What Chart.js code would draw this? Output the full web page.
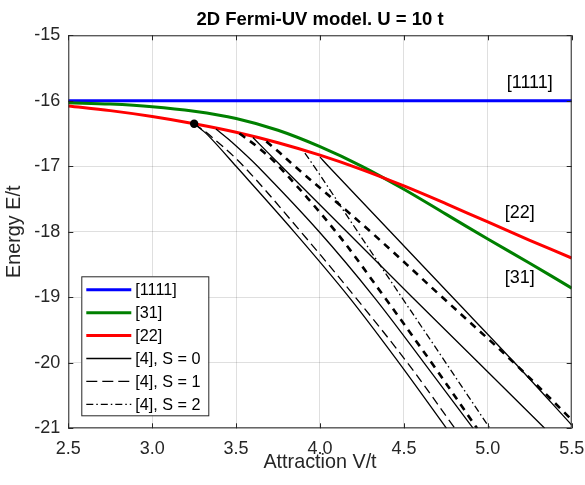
<!DOCTYPE html>
<html>
<head>
<meta charset="utf-8">
<script src="https://cdn.jsdelivr.net/npm/chart.js@4.4.0/dist/chart.umd.min.js"></script>
<style>
  body { margin: 0; background: #fff; }
  #wrap { width: 585px; height: 485px; }
</style>
</head>
<body>
<div id="wrap"><canvas id="chartFermiUV" width="585" height="485"></canvas></div>
<script>
// colored branches on a shared V/t grid
const attraction = [2.5, 2.75, 3.0, 3.25, 3.5, 3.75, 4.0, 4.25, 4.5, 4.75, 5.0, 5.25, 5.5];
const energy1111 = [-16, -16, -16, -16, -16, -16, -16, -16, -16, -16, -16, -16, -16];
const energy31 = [-16.03, -16.05, -16.09, -16.16, -16.27, -16.45, -16.70, -17.00, -17.35, -17.73, -18.11, -18.48, -18.86];
const energy22 = [-16.08, -16.15, -16.24, -16.35, -16.48, -16.64, -16.83, -17.05, -17.30, -17.57, -17.85, -18.13, -18.40];

const s0aV = [3.25, 3.33, 3.50, 3.846, 4.174, 4.471, 4.754];
const s0aE = [-16.35, -16.52, -17, -18, -19, -20, -21];
const s1aV = [3.25, 3.34, 3.545, 3.886, 4.211, 4.521, 4.804];
const s1aE = [-16.35, -16.52, -17, -18, -19, -20, -21];
const s0bV = [3.38, 3.47, 3.628, 3.995, 4.323, 4.62, 4.913];
const s0bE = [-16.43, -16.62, -17, -18, -19, -20, -21];
const s1bV = [3.52, 3.63, 3.755, 4.095, 4.385, 4.665, 4.936];
const s1bE = [-16.50, -16.71, -17, -18, -19, -20, -21];
const s0cV = [3.60, 3.77, 4.16, 4.55, 4.945, 5.339];
const s0cE = [-16.56, -17, -18, -19, -20, -21];
const s1cV = [3.68, 3.75, 3.85, 4.302, 4.729, 5.156, 5.5];
const s1cE = [-16.62, -16.77, -17, -18, -19, -20, -20.87];
const s2V = [3.91, 3.965, 4.225, 4.487, 4.75, 5.012];
const s2E = [-16.80, -17, -18, -19, -20, -21];
const s0dV = [4.00, 4.05, 4.42, 4.79, 5.16, 5.5];
const s0dE = [-16.86, -17, -18, -19, -20, -20.95];

const splitV = [3.25];
const splitE = [-16.35];

const xTicks = [2.5, 3.0, 3.5, 4.0, 4.5, 5.0, 5.5];
const yTicks = [-21, -20, -19, -18, -17, -16, -15];

const chartTitle = '2D Fermi-UV model. U = 10 t';
const legendLabels = ['[1111]', '[31]', '[22]', '[4], S = 0', '[4], S = 1', '[4], S = 2'];
const curveTags = ['[1111]', '[22]', '[31]'];
const tagV = [5.25, 5.19, 5.19];
const tagE = [-15.73, -17.71, -18.705];

const FONT = "'Liberation Sans', Arial, Helvetica, sans-serif";
const AXIS = '#262626';

const blue = { color: '#0000ff', width: 3, dash: [] };
const green = { color: '#008000', width: 3, dash: [] };
const red = { color: '#ff0000', width: 3, dash: [] };
const solid = { color: '#000', width: 1.3, dash: [] };
const dashed = { color: '#000', width: 1.3, dash: [9, 5] };
const dashedHeavy = { color: '#000', width: 2.6, dash: [7, 6] };
const dashDot = { color: '#000', width: 1.3, dash: [7, 3, 1.5, 3] };
const legendStyles = [blue, green, red, solid, dashed, dashDot];

const toPoints = (xs, ys) => xs.map((x, i) => ({ x: x, y: ys[i] }));

function curve(label, xs, ys, st, order) {
    return {
        label: label,
        data: toPoints(xs, ys),
        borderColor: st.color,
        borderWidth: st.width,
        borderDash: st.dash,
        pointRadius: 0,
        fill: false,
        tension: 0.35,
        order: order
    };
}

const matlabFrame = {
    id: 'matlabFrame',
    afterDraw(chart) {
        const c = chart.ctx;
        const a = chart.chartArea;
        const xs = chart.scales.x;
        const ys = chart.scales.y;
        c.save();

        // box and inward ticks
        c.strokeStyle = AXIS;
        c.lineWidth = 1;
        c.strokeRect(a.left + 0.5, a.top + 0.5, a.right - a.left - 1, a.bottom - a.top - 1);
        c.beginPath();
        xTicks.forEach(v => {
            const px = Math.round(xs.getPixelForValue(v)) + 0.5;
            c.moveTo(px, a.bottom); c.lineTo(px, a.bottom - 5);
            c.moveTo(px, a.top); c.lineTo(px, a.top + 5);
        });
        yTicks.forEach(v => {
            const py = Math.round(ys.getPixelForValue(v)) + 0.5;
            c.moveTo(a.left, py); c.lineTo(a.left + 5, py);
            c.moveTo(a.right, py); c.lineTo(a.right - 5, py);
        });
        c.stroke();

        // title centred over the axes
        c.fillStyle = '#000';
        c.textAlign = 'center';
        c.textBaseline = 'middle';
        c.font = 'bold 18.5px ' + FONT;
        c.fillText(chartTitle, (a.left + a.right) / 2, 20);

        // curve tags
        c.font = '18px ' + FONT;
        curveTags.forEach((t, i) => {
            c.fillText(t, xs.getPixelForValue(tagV[i]), ys.getPixelForValue(tagE[i]));
        });

        // legend box, lower left inside the axes
        const rowH = 22.9;
        const boxW = 127;
        const boxH = 139;
        const bx = a.left + 13;
        const by = a.bottom - 13 - boxH;
        c.fillStyle = '#fff';
        c.fillRect(bx, by, boxW, boxH);
        c.strokeStyle = AXIS;
        c.lineWidth = 1;
        c.strokeRect(bx + 0.5, by + 0.5, boxW, boxH);
        c.textAlign = 'left';
        c.font = '16.2px ' + FONT;
        legendLabels.forEach((t, i) => {
            const st = legendStyles[i];
            const ry = by + 13.5 + i * rowH;
            c.beginPath();
            c.strokeStyle = st.color;
            c.lineWidth = st.width;
            c.setLineDash(st.dash.length ? (i === 4 ? [11, 5] : st.dash) : []);
            c.moveTo(bx + 5, ry);
            c.lineTo(bx + 50, ry);
            c.stroke();
            c.setLineDash([]);
            c.fillStyle = '#000';
            c.fillText(t, bx + 54, ry + 1);
        });
        c.restore();
    }
};

function noOverhang(s) {
    s.paddingLeft = 0;
    s.paddingRight = 0;
    s.paddingTop = 0;
    s.paddingBottom = 0;
}

const ctx = document.getElementById('chartFermiUV').getContext('2d');

const chartFermiUV = new Chart(ctx, {
    type: 'line',
    data: {
        datasets: [
            {
                label: 'split',
                data: toPoints(splitV, splitE),
                showLine: false,
                pointRadius: 4.2,
                pointBackgroundColor: '#000',
                pointBorderColor: '#000',
                pointBorderWidth: 0,
                order: 0
            },
            curve('[4], S = 0', s0aV, s0aE, solid, 1),
            curve('[4], S = 1', s1aV, s1aE, dashed, 1),
            curve('[4], S = 0', s0bV, s0bE, solid, 1),
            curve('[4], S = 1', s1bV, s1bE, dashedHeavy, 1),
            curve('[4], S = 0', s0cV, s0cE, solid, 1),
            curve('[4], S = 1', s1cV, s1cE, dashedHeavy, 1),
            curve('[4], S = 2', s2V, s2E, dashDot, 1),
            curve('[4], S = 0', s0dV, s0dE, solid, 1),
            curve('[22]', attraction, energy22, red, 2),
            curve('[31]', attraction, energy31, green, 3),
            curve('[1111]', attraction, energy1111, blue, 4)
        ]
    },
    options: {
        responsive: false,
        animation: false,
        layout: { padding: { left: 0, right: 13.3, top: 35.3, bottom: 0 } },
        plugins: {
            legend: { display: false },
            tooltip: { enabled: false },
            title: { display: false }
        },
        scales: {
            x: {
                type: 'linear',
                min: 2.5,
                max: 5.5,
                afterFit: s => { s.height = 56.7; noOverhang(s); },
                afterBuildTicks: s => { s.ticks = xTicks.map(v => ({ value: v })); },
                ticks: {
                    color: AXIS,
                    font: { family: FONT, size: 18 },
                    padding: 10,
                    maxRotation: 0,
                    callback: v => Number(v).toFixed(1)
                },
                grid: { color: 'rgba(38,38,38,0.15)', drawTicks: false },
                border: { display: false },
                title: {
                    display: true,
                    text: 'Attraction V/t',
                    color: AXIS,
                    font: { family: FONT, size: 19.8 },
                    padding: { bottom: 10.1 }
                }
            },
            y: {
                type: 'linear',
                min: -21,
                max: -15,
                afterFit: s => { s.width = 68.3; noOverhang(s); },
                afterBuildTicks: s => { s.ticks = yTicks.map(v => ({ value: v })); },
                ticks: {
                    color: AXIS,
                    font: { family: FONT, size: 18 },
                    padding: 8
                },
                grid: { color: 'rgba(38,38,38,0.15)', drawTicks: false },
                border: { display: false },
                title: {
                    display: true,
                    text: 'Energy E/t',
                    color: AXIS,
                    font: { family: FONT, size: 19.8 },
                    padding: { top: 3 }
                }
            }
        }
    },
    plugins: [matlabFrame]
});
</script>
</body>
</html>
